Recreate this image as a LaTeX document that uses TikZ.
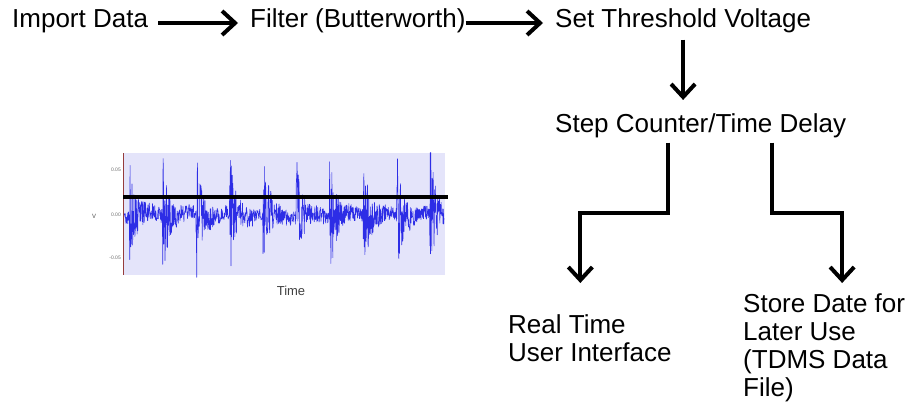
\documentclass[tikz,border=0pt]{standalone}
\usepackage{fontspec}
\setmainfont{Liberation Sans}
\usetikzlibrary{arrows.meta}
\definecolor{plotbg}{RGB}{228,228,250}
\definecolor{trace}{RGB}{45,45,230}
\definecolor{axisred}{RGB}{150,60,60}
\definecolor{ticktext}{RGB}{110,110,110}
\begin{document}
\begin{tikzpicture}[x=1pt,y=-1pt,
  lbl/.style={inner sep=0pt, font=\fontsize{26pt}{28pt}\selectfont, anchor=base west},
  blk/.style={inner sep=0pt, font=\fontsize{26pt}{28pt}\selectfont, anchor=north west, align=left},
  flow/.style={line width=4pt, -{Straight Barb[length=13pt,width=24pt]}},
  tick/.style={inner sep=0pt, font=\fontsize{5pt}{6pt}\selectfont, text=ticktext, anchor=east},
  sig/.style={trace, line width=0.6pt, line join=round}]
\useasboundingbox (0,0) rectangle (909,417);

% processing chain
\node[lbl] (imp)  at (12,28)  {Import Data};
\node[lbl] (filt) at (250,28) {Filter (Butterworth)};
\node[lbl] (thr)  at (555,28) {Set Threshold Voltage};
\node[lbl] (cnt)  at (555,132) {Step Counter/Time Delay};
\node[blk] (rt)   at (508,314) {Real Time\\User Interface};
\node[blk] (st)   at (743,293) {Store Date for\\Later Use\\(TDMS Data\\File)};

\draw[flow] ([xshift=10pt,yshift=5pt]imp.base east) -- ([xshift=-12pt,yshift=5pt]filt.base west);
\draw[flow] ([yshift=5pt]filt.base east) -- ([xshift=-12pt,yshift=5pt]thr.base west);
\draw[flow] ([yshift=-6pt]thr.south) -- ([yshift=13pt]thr.south |- cnt.north);
\draw[flow] ([xshift=-33pt,yshift=-5pt]cnt.south) -- ++(0,70) -| ([xshift=-9.5pt,yshift=31pt]rt.north);
\draw[flow] ([xshift=71pt,yshift=-5pt]cnt.south) -- ++(0,70) -| ([xshift=18pt,yshift=10pt]st.north);

% voltage trace with threshold
\fill[plotbg] (123,153) rectangle (445,275);
\pgfmathsetseed{11}
\draw[sig] plot[domain=124:444, samples=1000]
  (\x, {215 + 3*sin(\x*9) + (6 + 54*exp(-mod(\x+4.4,33.4)/4) + 14*exp(-mod(\x+4.4,33.4)/13))*rand});
\draw[axisred, line width=1pt] (123,153) -- (123,275);
\draw[black, line width=4pt] (123,197) -- (448,197);
\node[tick] (t1) at (121,170) {0.05};
\node[tick] (t2) at (121,215) {0.00};
\node[tick] (t3) at (121,258) {-0.05};
\node[inner sep=0pt, font=\fontsize{8pt}{9pt}\selectfont, text=ticktext] (vl) at (94,216) {v};
\node[inner sep=0pt, font=\fontsize{13pt}{14pt}\selectfont, text=black!75] (tl) at (291,291) {Time};
\end{tikzpicture}
\end{document}
